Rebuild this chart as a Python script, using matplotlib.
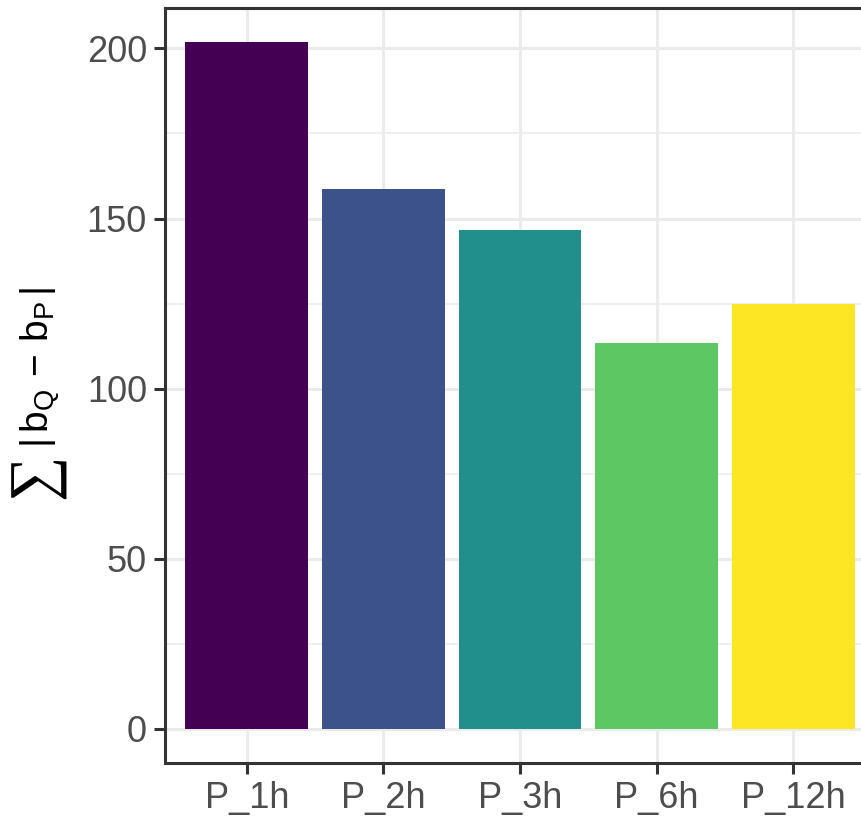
import matplotlib
matplotlib.use("Agg")
import matplotlib.pyplot as plt
from matplotlib.ticker import MultipleLocator

plt.rcParams['font.family'] = ['Liberation Sans', 'DejaVu Sans']
plt.rcParams['mathtext.fontset'] = 'custom'
plt.rcParams['mathtext.rm'] = 'Liberation Sans'
plt.rcParams['mathtext.it'] = 'Liberation Sans'

categories = ["P_1h", "P_2h", "P_3h", "P_6h", "P_12h"]
values = [201.8, 158.6, 146.6, 113.5, 124.9]
colors = ["#440154", "#3B528B", "#21908C", "#5DC863", "#FDE725"]

W, H = 861, 818
fig = plt.figure(figsize=(W / 100, H / 100), dpi=100)
# panel: left 165px, right ~875px (cropped), top 8px, bottom 763px
left, right, top, bottom = 165, 875, 8, 763
ax = fig.add_axes([left / W, 1 - bottom / H, (right - left) / W, (bottom - top) / H])

x = list(range(1, len(categories) + 1))
ax.bar(x, values, width=0.9, color=colors, zorder=3)

vmax = max(values)
ax.set_xlim(0.4, 5.6)
ax.set_ylim(-0.05 * vmax, 1.05 * vmax)
ax.set_xticks(x)
ax.set_xticklabels(categories)
ax.yaxis.set_major_locator(MultipleLocator(50))
ax.yaxis.set_minor_locator(MultipleLocator(25))

ax.grid(which='major', color='#EBEBEB', linewidth=2.2, zorder=0)
ax.grid(which='minor', axis='y', color='#EBEBEB', linewidth=1.1, zorder=0)
ax.set_axisbelow(True)

for s in ax.spines.values():
    s.set_color('#333333')
    s.set_linewidth(2.2)

ax.tick_params(which='major', length=8, width=2.2, color='#333333',
               labelsize=26, labelcolor='#4D4D4D', pad=5)
ax.tick_params(which='minor', length=0)

# y-axis title: large serif sum sign followed by |b_Q - b_P|
fig.text(37 / W, 1 - 476 / H, "\u2211", rotation=90, fontsize=46,
         family=['Liberation Serif', 'DejaVu Serif'], ha='center', va='center', color='black')
fig.text(40 / W, 1 - 367 / H, r"$|\,\mathrm{b_Q}\,-\,\mathrm{b_P}\,|$", rotation=90,
         fontsize=28, ha='center', va='center', color='black')

fig.savefig("out.png", dpi=100)
